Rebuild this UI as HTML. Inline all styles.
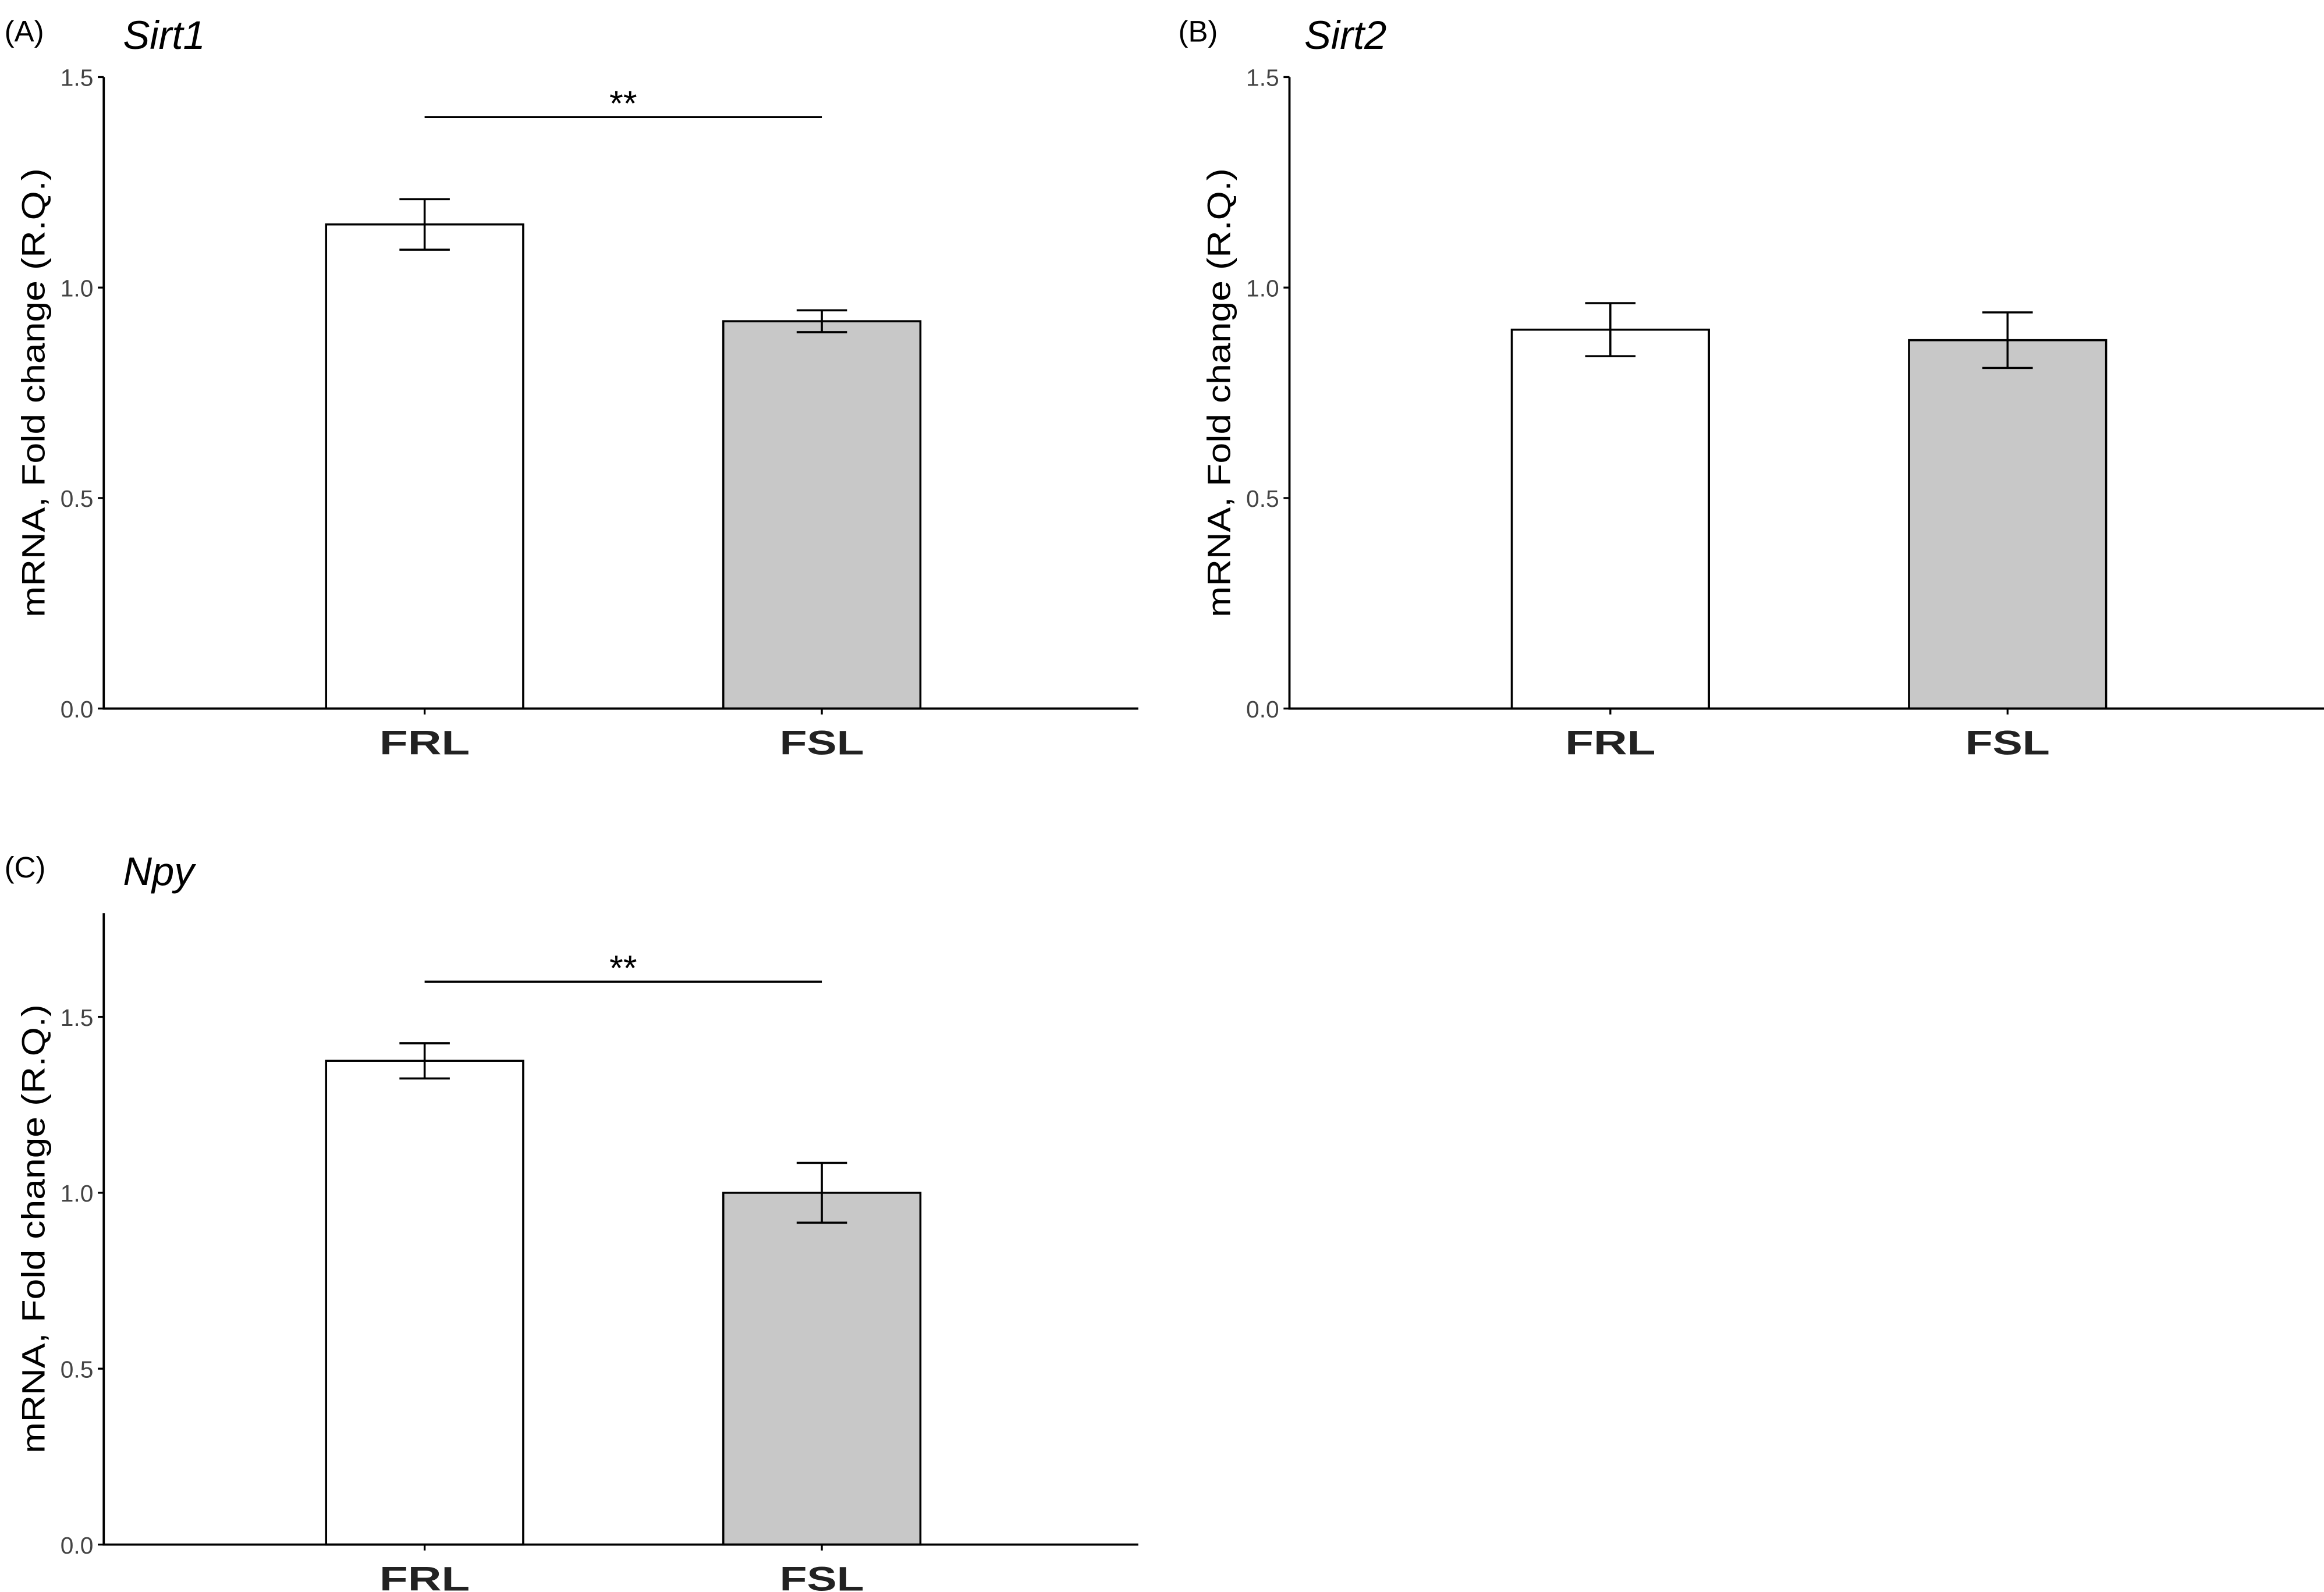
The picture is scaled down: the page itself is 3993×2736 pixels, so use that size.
<!DOCTYPE html>
<html><head><meta charset="utf-8"><style>
html,body{margin:0;padding:0;background:#fff;}
svg{display:block;}
text{font-family:"Liberation Sans",Arial,sans-serif;}
</style></head><body>
<svg id="chart" width="3993" height="2736" viewBox="0 0 1568 1074" preserveAspectRatio="none" xmlns="http://www.w3.org/2000/svg"></svg>
<script>
const categories = ["FRL", "FSL"];
const sirt1Values = [1.15, 0.92];
const sirt1Errors = [0.06, 0.026];
const sirt2Values = [0.90, 0.875];
const sirt2Errors = [0.063, 0.066];
const npyValues = [1.375, 1.0];
const npyErrors = [0.05, 0.085];
const ticksAB = [0.0, 0.5, 1.0, 1.5];
const ticksC = [0.0, 0.5, 1.0, 1.5];
const sigA = 1.405;
const sigC = 1.60;

const NS = "http://www.w3.org/2000/svg";
const svg = document.getElementById("chart");
function mk(tag, attrs, parent) {
  const e = document.createElementNS(NS, tag);
  for (const k in attrs) e.setAttribute(k, attrs[k]);
  (parent || svg).appendChild(e);
  return e;
}
const panels = [
  {id:"a", label:"(A)", title:"Sirt1", x0:70, x1:768, y0:478, yTop:52, ymax:1.5, vals:sirt1Values, errs:sirt1Errors, ticks:ticksAB, sig:sigA, lx:3, tx:83, ly:28, ty:33},
  {id:"b", label:"(B)", title:"Sirt2", x0:870, x1:1568, y0:478, yTop:52, ymax:1.5, vals:sirt2Values, errs:sirt2Errors, ticks:ticksAB, sig:null, lx:795, tx:880, ly:28, ty:33},
  {id:"c", label:"(C)", title:"Npy", x0:70, x1:768, y0:1042, yTop:616, ymax:1.795, vals:npyValues, errs:npyErrors, ticks:ticksC, sig:sigC, lx:3, tx:83, ly:592, ty:597}
];
panels.forEach(p => {
  const g = mk("g", {});
  
  
  const yScale = v => p.y0 - v * (p.y0 - p.yTop) / p.ymax;
  const xCenter = i => p.x0 + 216.5 + i * 268;
  const bw = 133;
  const lab = mk("text", {x:p.lx, y:p.ly, "font-size":20, fill:"#000"}, g);
  lab.textContent = p.label;
  
  
  const tt = mk("text", {x:p.tx, y:p.ty, "font-size":27, "font-style":"italic", fill:"#000"}, g);
  tt.textContent = p.title;
  
  
  p.vals.forEach((v, i) => {
    const r = mk("rect", {x:xCenter(i) - bw/2, y:yScale(v), width:bw, height:p.y0 - yScale(v), fill: i===0 ? "#fff" : "#c8c8c8", stroke:"#000", "stroke-width":1.4}, g);
    
    
    const lo = yScale(v - p.errs[i]), hi = yScale(v + p.errs[i]);
    const eg = mk("g", {stroke:"#000", "stroke-width":1.4}, g);
    
    
    mk("line", {x1:xCenter(i), x2:xCenter(i), y1:lo, y2:hi}, eg);
    mk("line", {x1:xCenter(i)-17, x2:xCenter(i)+17, y1:lo, y2:lo}, eg);
    mk("line", {x1:xCenter(i)-17, x2:xCenter(i)+17, y1:hi, y2:hi}, eg);
    const cl = mk("text", {x:xCenter(i), y:p.y0 + 31, "font-size":23, "font-weight":"bold", "text-anchor":"middle", fill:"#222", textLength: i===0 ? 61 : 57, lengthAdjust:"spacingAndGlyphs"}, g);
    cl.textContent = categories[i];
    
    
    mk("line", {x1:xCenter(i), x2:xCenter(i), y1:p.y0, y2:p.y0+4, stroke:"#000", "stroke-width":1.3}, g);
  });
  const ax = mk("path", {d:`M${p.x0} ${p.yTop} V${p.y0} H${p.x1}`, fill:"none", stroke:"#000", "stroke-width":1.5}, g);
  
  
  p.ticks.forEach(t => {
    mk("line", {x1:p.x0-4, x2:p.x0, y1:yScale(t), y2:yScale(t), stroke:"#000", "stroke-width":1.3}, g);
    const tl = mk("text", {x:p.x0-7, y:yScale(t)+6, "font-size":16, "text-anchor":"end", fill:"#444"}, g);
    tl.textContent = t.toFixed(1);
    
    
  });
  const yc = (p.y0 + p.yTop) / 2;
  const yt = mk("text", {x:0, y:0, "font-size":22, "text-anchor":"middle", fill:"#000", textLength:303, lengthAdjust:"spacingAndGlyphs", transform:`translate(${p.x0-40},${yc}) rotate(-90)`}, g);
  yt.textContent = "mRNA, Fold change (R.Q.)";
  
  
  if (p.sig !== null) {
    const sy = yScale(p.sig);
    const sl = mk("line", {x1:xCenter(0), x2:xCenter(1), y1:sy, y2:sy, stroke:"#000", "stroke-width":1.4}, g);
    
    
    const st = mk("text", {x:(xCenter(0)+xCenter(1))/2, y:sy-1, "font-size":24, "text-anchor":"middle", fill:"#000"}, g);
    st.textContent = "**";
    
    
  }
});
</script>
</body></html>
